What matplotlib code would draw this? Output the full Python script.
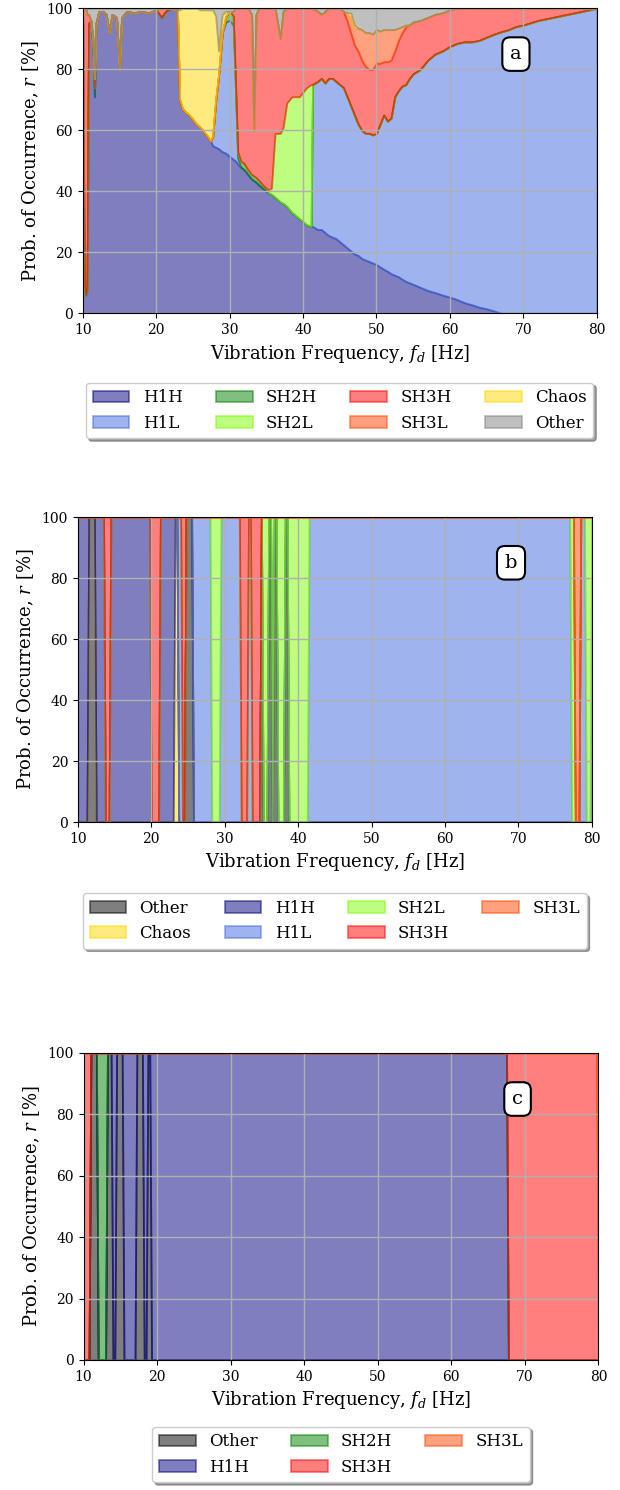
import numpy as np
import matplotlib
matplotlib.use("Agg")
from matplotlib import pyplot as plt

plt.rcParams['font.family'] = 'DejaVu Serif'
plt.rcParams['mathtext.fontset'] = 'dejavuserif'

# --- Panel a: probability of each response (%) ---
a_freq = [10.0, 10.2, 10.4, 10.6, 10.8, 11.1, 11.4, 11.6, 11.8, 12.2,
          12.8, 13.2, 13.6, 14.0, 14.6, 15.0, 15.3, 16.0, 17.0, 18.0,
          19.0, 20.0, 20.7, 21.3, 22.0, 22.9, 23.2, 23.6, 24.0, 24.5,
          25.0, 25.5, 26.0, 26.5, 27.0, 27.4, 27.7, 28.1, 28.5, 29.0,
          29.5, 30.0, 30.5, 30.8, 31.1, 31.5, 32.0, 32.5, 33.0, 33.3,
          33.6, 34.0, 34.5, 35.0, 35.3, 35.7, 36.2, 36.9, 37.3, 37.8,
          38.5, 39.5, 40.5, 41.1, 41.3, 42.0, 42.5, 43.0, 43.5, 44.0,
          44.5, 45.0, 45.5, 46.0, 46.5, 47.0, 47.5, 48.0, 48.5, 49.0,
          49.5, 50.0, 50.5, 51.0, 51.5, 52.0, 52.5, 53.0, 53.5, 54.0,
          54.5, 55.0, 56.0, 57.0, 58.0, 59.0, 60.0, 61.0, 62.0, 63.0,
          64.0, 65.0, 66.0, 67.0, 68.0, 69.0, 70.0, 72.0, 74.0, 76.0,
          78.0, 80.0]
a_h1h = [96, 10, 6, 8, 95, 96, 88, 71, 95, 99,
         99, 98, 92, 98, 97, 80, 97, 99, 98.5, 99,
         98.5, 99.5, 97, 99, 100, 99.5, 70, 67, 66, 65,
         63.5, 62, 61, 59.5, 58, 56.5, 55, 54.5, 54, 53,
         52.5, 51.5, 50.5, 50, 49, 48, 47, 45.5, 44, 43.5,
         43, 42, 41, 40, 39.5, 39, 38, 36.5, 36, 35,
         33, 31, 29, 28.5, 28.5, 27.5, 27.5, 26.5, 25.5, 25,
         24.5, 23.5, 22.5, 21.5, 20.5, 19.5, 19, 18, 17.5, 17,
         16.5, 16, 15.2, 14.5, 13.8, 13, 12.5, 12, 11.2, 10.5,
         10, 9.5, 8.5, 7.5, 6.8, 6, 5.3, 4.5, 3.5, 2.8,
         2, 1.5, 0.8, 0, 0, 0, 0, 0, 0, 0,
         0, 0]
a_h1l = [0, 0, 0, 0, 0, 0, 0, 0, 0, 0,
         0, 0, 0, 0, 0, 0, 0, 0, 0, 0,
         0, 0, 0, 0, 0, 0, 0, 0, 0, 0,
         0, 0, 0, 0, 0, 0, 3, 15, 24, 39,
         43, 44.5, 44, 24, 2, 0, 0, 0, 0, 0,
         0, 0, 0, 0, 0, 0, 0, 0, 0, 0,
         0, 0, 0, 0, 46.5, 48.5, 49.5, 49, 51.5, 52,
         51.5, 51.5, 51.5, 49.5, 47.5, 45.5, 43, 42, 41.5, 42,
         42, 43, 46.8, 50.5, 49.2, 51, 58.5, 61, 63.3, 64.5,
         67, 69, 71.5, 75.5, 78.2, 80, 82.2, 84, 85.5, 86.2,
         87.5, 89, 90.7, 92.3, 93, 94, 94.5, 96, 97, 98,
         99, 100]
a_sh2h = [0, 0, 0, 0, 0, 0, 0, 3, 0, 0,
          0, 0, 0, 0, 0, 0, 0, 0, 0, 0,
          0, 0, 0, 0, 0, 0, 0, 0, 0, 0,
          0, 0, 0, 0, 0, 0, 0, 0, 0, 0,
          2, 3, 3, 2, 2, 2, 2, 1.5, 1.5, 1.5,
          1.5, 1.5, 1, 1, 0, 0, 0, 0, 0, 0,
          0, 0, 0, 0, 0, 0, 0, 0, 0, 0,
          0, 0, 0, 0, 0, 0, 0, 0, 0, 0,
          0, 0, 0, 0, 0, 0, 0, 0, 0, 0,
          0, 0, 0, 0, 0, 0, 0, 0, 0, 0,
          0, 0, 0, 0, 0, 0, 0, 0, 0, 0,
          0, 0]
a_sh2l = [0, 0, 0, 0, 0, 0, 0, 0, 0, 0,
          0, 0, 0, 0, 0, 0, 0, 0, 0, 0,
          0, 0, 0, 0, 0, 0, 0, 0, 0, 0,
          0, 0, 0, 0, 0, 0, 0, 0, 0, 0,
          0, 0, 0, 0, 0, 0, 0, 0, 0, 0,
          0, 0, 0, 0, 1, 2, 21, 22.5, 25, 34,
          38, 40, 45, 46.5, 0, 0, 0, 0, 0, 0,
          0, 0, 0, 0, 0, 0, 0, 0, 0, 0,
          0, 0, 0, 0, 0, 0, 0, 0, 0, 0,
          0, 0, 0, 0, 0, 0, 0, 0, 0, 0,
          0, 0, 0, 0, 0, 0, 0, 0, 0, 0,
          0, 0]
a_sh3h = [4, 90, 94, 90, 3, 0, 2, 3, 0, 0,
          0, 0, 0, 0, 0, 0, 0, 0, 0, 0,
          0, 0, 3, 1, 0, 0, 0, 0, 0, 0,
          0, 0, 0, 0, 0, 0, 0, 0, 0, 0,
          0, 0, 1.5, 24, 47, 50, 51, 53, 52.5, 15,
          53.5, 56.5, 58, 59, 59.5, 59, 41, 31, 38, 31,
          29, 29, 26, 25, 25, 23, 21, 23.5, 23, 23,
          24, 25, 25, 25, 24, 23, 24, 23, 22, 21,
          21.5, 23, 20, 17.5, 19.5, 19, 15, 16.5, 17.5, 19,
          17.5, 17, 16, 14, 13, 12.5, 12, 11.5, 11, 11,
          10.5, 9.5, 8.5, 7.7, 7, 6, 5.5, 4, 3, 2,
          1, 0]
a_sh3l = [0, 0, 0, 0, 0, 0, 0, 0, 0, 0,
          0, 0, 0, 0, 0, 0, 0, 0, 0, 0,
          0, 0, 0, 0, 0, 0, 0, 0, 0, 0,
          0, 0, 0, 0, 0, 0, 0, 0, 0, 0,
          0, 0, 0, 0, 0, 0, 0, 0, 0, 0,
          0, 0, 0, 0, 0, 0, 0, 0, 0, 0,
          0, 0, 0, 0, 0, 0, 0, 0, 0, 0,
          0, 0, 0, 2.5, 5, 5.5, 7.5, 10, 11, 12,
          11.5, 11, 10.5, 10.5, 10.5, 10, 7, 4, 2, 0.5,
          0, 0, 0, 0, 0, 0, 0, 0, 0, 0,
          0, 0, 0, 0, 0, 0, 0, 0, 0, 0,
          0, 0]
a_chaos = [0, 0, 0, 0, 0, 0, 0, 0, 0, 0,
           0, 0, 0, 0, 0, 0, 0, 0, 0, 0,
           0, 0, 0, 0, 0, 0, 29.5, 33, 34, 35,
           36.5, 38, 38.5, 40, 41.5, 43, 41.5, 28, 8, 6,
           1.5, 0, 0, 0, 0, 0, 0, 0, 0, 0,
           0, 0, 0, 0, 0, 0, 0, 0, 0, 0,
           0, 0, 0, 0, 0, 0, 0, 0, 0, 0,
           0, 0, 0, 0, 1.5, 1, 0, 0, 0, 0,
           0, 0, 0, 0, 0, 0, 0, 0, 0, 0,
           0, 0, 0, 0, 0, 0, 0, 0, 0, 0,
           0, 0, 0, 0, 0, 0, 0, 0, 0, 0,
           0, 0]
a_other = [0, 0, 0, 2, 2, 4, 10, 23, 5, 1,
           1, 2, 8, 2, 3, 20, 3, 1, 1.5, 1,
           1.5, 0.5, 0, 0, 0, 0.5, 0.5, 0, 0, 0,
           0, 0, 0.5, 0.5, 0.5, 0.5, 0.5, 2.5, 14, 2,
           1, 1, 1, 0, 0, 0, 0, 0, 2, 40,
           2, 0, 0, 0, 0, 0, 0, 10, 1, 0,
           0, 0, 0, 0, 0, 1, 2, 1, 0, 0,
           0, 0, 1, 1.5, 1.5, 5.5, 6.5, 7, 8, 8,
           8.5, 7, 7.5, 7, 7, 7, 7, 6.5, 6, 5.5,
           5.5, 4.5, 4, 3, 2, 1.5, 0.5, 0, 0, 0,
           0, 0, 0, 0, 0, 0, 0, 0, 0, 0,
           0, 0]

# --- Panels b and c: single response per frequency (start of each run) ---
b_breaks = [10.0, 11.5, 12.3, 13.7, 14.3, 19.8, 21.1, 23.2, 23.6, 24.2,
            24.75, 25.7, 28.1, 29.4, 32.1, 33.2, 33.6, 34.8, 35.2, 35.8,
            36.4, 36.7, 37.2, 38.2, 38.6, 41.4, 77.1, 77.7, 78.4, 79.2, 79.8]
b_modes = ['H1H', 'Other', 'H1H', 'SH3H', 'H1H', 'SH3H', 'H1H', 'Chaos', 'H1L', 'SH3H',
           'Other', 'H1L', 'SH2L', 'H1L', 'SH3H', 'H1L', 'SH3H', 'Other', 'SH2L', 'Other',
           'SH2L', 'Other', 'SH2L', 'Other', 'SH2L', 'H1L', 'SH2L', 'SH3L', 'H1L', 'SH2L', 'H1L']
c_breaks = [10.0, 10.8, 11.8, 13.25, 13.85, 14.45, 15.35, 17.25, 18.1, 18.55,
            19.15, 67.75, 79.9]
c_modes = ['SH3H', 'Other', 'SH2H', 'Other', 'H1H', 'Other', 'H1H', 'Other', 'H1H', 'Other',
           'H1H', 'SH3H', 'SH3L']

colors = {'H1H': 'navy', 'H1L': 'royalblue', 'SH2H': 'green', 'SH2L': 'lawngreen',
          'SH3H': 'red', 'SH3L': 'orangered', 'Chaos': 'gold', 'Other': 'gray'}


def draw_stack(ax, x, layers, names, cols):
    base = np.zeros(len(x))
    for vals, name in zip(layers, names):
        top = base + np.asarray(vals, dtype=float)
        ax.fill_between(x, base, top, color=cols[name], alpha=0.5, lw=1.3, label=name)
        base = top


def modes_to_layers(breaks, modes, names, step=0.25):
    x = np.arange(10.0, 80.0 + step / 2, step)
    idx = np.searchsorted(breaks, x + 1e-9, side='right') - 1
    which = np.array(modes)[idx]
    return x, [np.where(which == n, 100.0, 0.0) for n in names]


def style_axes(ax, tag):
    ax.set_xlim(10, 80)
    ax.set_ylim(0, 100)
    ax.set_xticks(range(10, 81, 10))
    ax.set_yticks(range(0, 101, 20))
    ax.tick_params(labelsize=10)
    ax.grid(True, color='#b0b0b0', lw=1)
    ax.set_xlabel(r'Vibration Frequency, $f_d$ [Hz]', fontsize=13)
    ax.set_ylabel(r'Prob. of Occurrence, $r$ [%]', fontsize=13)
    ax.text(69, 85, tag, fontsize=14, ha='center', va='center',
            bbox=dict(boxstyle='round,pad=0.4', fc='white', ec='black', lw=1.5))


def add_legend(ax, y, ncol):
    ax.legend(loc='upper center', bbox_to_anchor=(0.5, y), ncol=ncol, fontsize=12,
              handlelength=2.2, shadow=True, fancybox=True)


fig = plt.figure(figsize=(6.2, 14.9), dpi=100)

# panel a
ax_a = fig.add_axes([0.1334, 0.7897, 0.829, 0.2047])
names_a = ['H1H', 'H1L', 'SH2H', 'SH2L', 'SH3H', 'SH3L', 'Chaos', 'Other']
draw_stack(ax_a, np.array(a_freq),
           [a_h1h, a_h1l, a_sh2h, a_sh2l, a_sh3h, a_sh3l, a_chaos, a_other],
           names_a, colors)
style_axes(ax_a, 'a')
add_legend(ax_a, -0.2, 4)

# panel b
cols_bc = dict(colors, Other='black')
names_b = ['Other', 'Chaos', 'H1H', 'H1L', 'SH2L', 'SH3H', 'SH3L']
ax_b = fig.add_axes([0.1255, 0.4483, 0.829, 0.2047])
xb, layers_b = modes_to_layers(b_breaks, b_modes, names_b)
draw_stack(ax_b, xb, layers_b, names_b, cols_bc)
style_axes(ax_b, 'b')
add_legend(ax_b, -0.205, 4)

# panel c
names_c = ['Other', 'H1H', 'SH2H', 'SH3H', 'SH3L']
ax_c = fig.add_axes([0.1347, 0.0873, 0.8306, 0.2060])
xc, layers_c = modes_to_layers(c_breaks, c_modes, names_c)
draw_stack(ax_c, xc, layers_c, names_c, cols_bc)
style_axes(ax_c, 'c')
add_legend(ax_c, -0.19, 3)

fig.savefig('out.png', dpi=100)
